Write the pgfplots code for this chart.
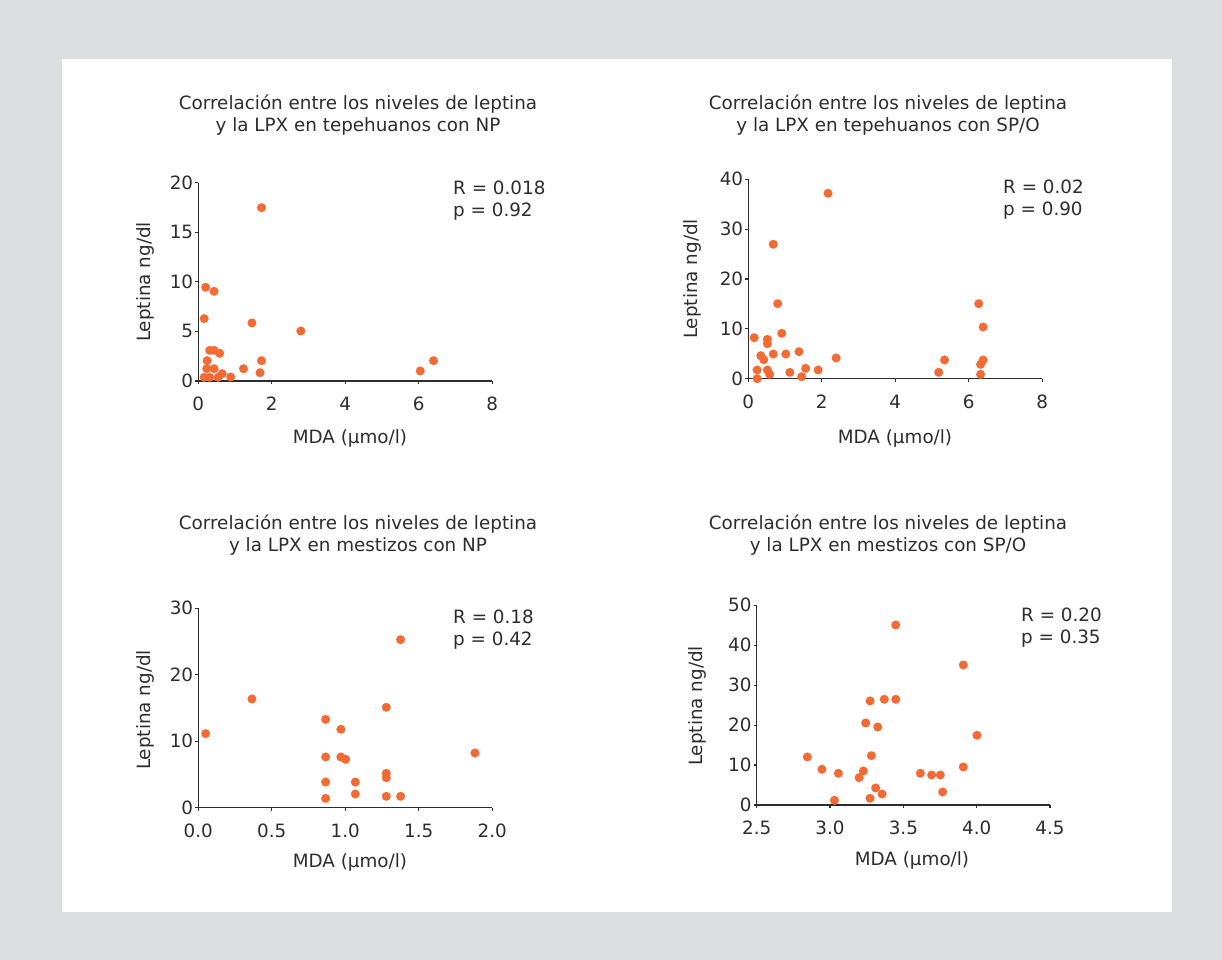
\documentclass[border=0pt]{standalone}
\usepackage{pgfplots}
\pgfplotsset{compat=1.18}
\usepackage{fontspec}
\setmainfont{DejaVu Sans}
\definecolor{bg}{RGB}{221,222,224}
\definecolor{dot}{RGB}{242,107,52}
\definecolor{txt}{RGB}{45,45,45}
\newcommand{\fnt}{\fontsize{18.4}{22}\selectfont}
\pgfplotsset{
  panel/.style={
    scale only axis, anchor=south west,
    axis x line=bottom, axis y line=left,
    axis line style={-, draw=txt, line width=1.2bp},
    every tick/.style={draw=txt, line width=1.2bp},
    tick align=outside, major tick length=3bp, minor tick num=0,
    enlargelimits=false, clip=false,
    tick label style={font=\fnt, text=txt},
    /pgf/number format/assume math mode=true,
    yticklabel style={anchor=east, inner sep=0pt, xshift=-2bp},
    xticklabel style={anchor=north, inner sep=0pt, yshift=-13bp},
  },
  mk/.style={only marks, mark=*, mark size=4.4bp, color=dot,
    mark options={draw=dot, fill=dot, line width=0.1bp}}
}
\begin{document}
\begin{tikzpicture}[x=1bp,y=1bp, font=\fnt, text=txt]
\fill[bg] (0,0) rectangle (1222,960);
\fill[white] (62,48) rectangle (1172,901);

% Panel 1
\begin{axis}[panel, at={(198.3bp,579bp)}, width=294bp, height=198.3bp,
  xmin=0, xmax=8, ymin=0, ymax=20, xtick={0,2,4,6,8}, ytick={0,5,10,15,20}]
\addplot[mk] coordinates {
(1.72,17.48) (0.20,9.45) (0.43,9.04) (0.16,6.29) (1.46,5.85) (2.79,5.04)
(0.31,3.09) (0.43,3.09) (0.58,2.79) (0.24,2.05) (1.72,2.05) (6.40,2.05)
(0.23,1.24) (0.43,1.24) (1.23,1.24) (1.68,0.84) (6.04,1.01) (0.65,0.74)
(0.16,0.37) (0.31,0.37) (0.54,0.37) (0.88,0.40)};
\end{axis}

% Panel 2
\begin{axis}[panel, at={(748.3bp,581.3bp)}, width=294bp, height=199.4bp,
  xmin=0, xmax=8, ymin=0, ymax=40, xtick={0,2,4,6,8}, ytick={0,10,20,30,40}]
\addplot[mk] coordinates {
(2.17,37.19) (0.68,26.96) (0.80,15.05) (6.27,15.05) (6.39,10.37) (0.16,8.23)
(0.91,9.10) (0.52,7.89) (0.52,7.02) (0.34,4.62) (0.42,3.81) (0.68,4.95)
(1.02,4.95) (1.38,5.42) (2.39,4.15) (5.34,3.75) (6.39,3.75) (6.32,2.88)
(0.24,1.74) (0.52,1.74) (0.58,0.87) (1.13,1.27) (1.56,2.07) (1.90,1.74)
(1.45,0.40) (5.18,1.27) (6.32,0.87) (0.24,0.0)};
\end{axis}

% Panel 3
\begin{axis}[panel, at={(198.3bp,152.3bp)}, width=294bp, height=199.4bp,
  xmin=0, xmax=2, ymin=0, ymax=30, xtick={0,0.5,1,1.5,2},
  xticklabels={0.0,0.5,1.0,1.5,2.0}, ytick={0,10,20,30}]
\addplot[mk] coordinates {
(1.376,25.28) (0.365,16.35) (1.279,15.10) (0.866,13.29) (0.970,11.79)
(0.050,11.14) (1.882,8.23) (0.866,7.63) (0.970,7.63) (1.002,7.27)
(1.279,5.17) (1.279,4.51) (0.866,3.86) (1.068,3.86) (1.068,2.06)
(0.866,1.40) (1.279,1.71) (1.376,1.71)};
\end{axis}

% Panel 4
\begin{axis}[panel, at={(756.7bp,155bp)}, width=293.3bp, height=199.7bp,
  xmin=2.5, xmax=4.5, ymin=0, ymax=50, xtick={2.5,3,3.5,4,4.5},
  xticklabels={2.5,3.0,3.5,4.0,4.5}, ytick={0,10,20,30,40,50}]
\addplot[mk] coordinates {
(3.448,45.08) (3.909,35.06) (3.273,26.04) (3.370,26.46) (3.448,26.46)
(3.243,20.53) (3.325,19.53) (4.002,17.45) (2.845,12.02) (3.282,12.35)
(2.945,8.93) (3.057,7.93) (3.227,8.51) (3.198,6.84) (3.616,7.93)
(3.693,7.51) (3.752,7.51) (3.909,9.52) (3.768,3.26) (3.311,4.26)
(3.355,2.75) (3.273,1.67) (3.030,1.17)};
\end{axis}

% Titles
\node[anchor=base] at (358,850) {Correlación entre los niveles de leptina};
\node[anchor=base] at (358,828) {y la LPX en tepehuanos con NP};
\node[anchor=base] at (888,850) {Correlación entre los niveles de leptina};
\node[anchor=base] at (888,828) {y la LPX en tepehuanos con SP/O};
\node[anchor=base] at (358,430) {Correlación entre los niveles de leptina};
\node[anchor=base] at (358,408) {y la LPX en mestizos con NP};
\node[anchor=base] at (888,430) {Correlación entre los niveles de leptina};
\node[anchor=base] at (888,408) {y la LPX en mestizos con SP/O};

% R and p
\node[anchor=base west, inner sep=0pt] at (453,765) {R = 0.018};
\node[anchor=base west, inner sep=0pt] at (453,743) {p = 0.92};
\node[anchor=base west, inner sep=0pt] at (1003,766) {R = 0.02};
\node[anchor=base west, inner sep=0pt] at (1003,744) {p = 0.90};
\node[anchor=base west, inner sep=0pt] at (453,336) {R = 0.18};
\node[anchor=base west, inner sep=0pt] at (453,314) {p = 0.42};
\node[anchor=base west, inner sep=0pt] at (1021,338) {R = 0.20};
\node[anchor=base west, inner sep=0pt] at (1021,316) {p = 0.35};

% Axis labels
\node[anchor=base] at (350,516) {MDA (µmo/l)};
\node[anchor=base] at (895,516) {MDA (µmo/l)};
\node[anchor=base] at (350,92) {MDA (µmo/l)};
\node[anchor=base] at (912,94) {MDA (µmo/l)};
\node[rotate=90, anchor=center] at (145,678) {Leptina ng/dl};
\node[rotate=90, anchor=center] at (692,681) {Leptina ng/dl};
\node[rotate=90, anchor=center] at (145,250) {Leptina ng/dl};
\node[rotate=90, anchor=center] at (697,254) {Leptina ng/dl};
\end{tikzpicture}
\end{document}
